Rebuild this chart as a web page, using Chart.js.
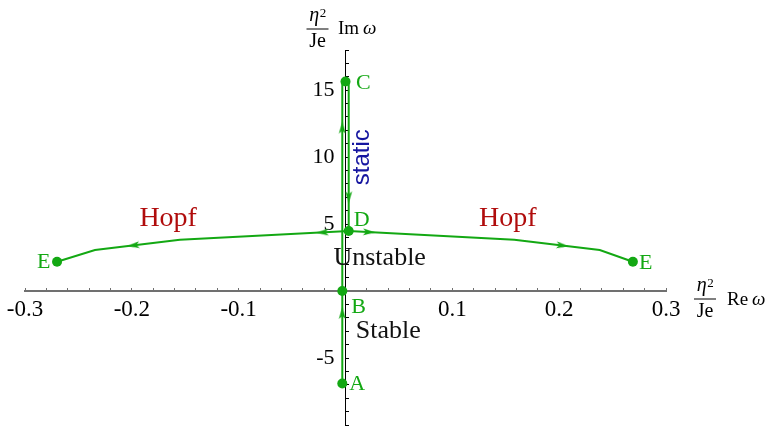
<!DOCTYPE html>
<html><head><meta charset="utf-8">
<script src="https://cdn.jsdelivr.net/npm/chart.js@4.4.1/dist/chart.umd.min.js"></script>
<style>html,body{margin:0;padding:0;background:#fff;overflow:hidden}canvas{display:block}</style>
</head><body>
<canvas id="c" width="767" height="426"></canvas>
<script>
// ---- data ----
const xTickLabels = [-0.3, -0.2, -0.1, 0.1, 0.2, 0.3];
const yTickLabels = [-5, 5, 10, 15];

const risingLineX = [-0.003, -0.003];      // A -> C
const risingLineY = [-6.9, 15.65];
const fallingLineX = [0.003, 0.003];       // C -> D
const fallingLineY = [15.65, 4.48];
const leftHopfX = [0.003, -0.155, -0.2345, -0.270];   // D -> E (left)
const leftHopfY = [4.48, 3.83, 3.06, 2.19];
const rightHopfX = [0.003, 0.158, 0.238, 0.269];      // D -> E (right)
const rightHopfY = [4.48, 3.83, 3.06, 2.19];

const pointNames = ['A', 'B', 'C', 'D', 'E', 'E'];
const pointX = [-0.003, -0.003, 0, 0.003, -0.270, 0.269];
const pointY = [-6.9, 0, 15.65, 4.48, 2.19, 2.19];

const arrowX = [-0.003, -0.003, 0.003, -0.0215, -0.1985, 0.022, 0.203];
const arrowY = [-1.64, 12.2, 7.0, 4.38, 3.41, 4.40, 3.40];
const arrowDirX = [0, 0, 0, -0.158, -0.0795, 0.155, 0.08];
const arrowDirY = [1, 1, -1, -0.65, -0.77, -0.65, -0.77];

// ---- styles ----
const green = '#13a813';
const serif = '"Liberation Serif", "Times New Roman", serif';
const pointLabelOffsets = [[7, 7], [9, 22], [10.5, 7.5], [5, -5], [-6.5, 6.5], [6, 7]];
const regionLabels = [
  {text: 'Hopf', x: -0.166, y: 4.85, color: '#b00c0c', font: '28px ' + serif},
  {text: 'Hopf', x: 0.152, y: 4.85, color: '#b00c0c', font: '28px ' + serif},
  {text: 'Unstable', x: 0.032, y: 1.94, color: '#111', font: '26px ' + serif},
  {text: 'Stable', x: 0.040, y: -3.51, color: '#111', font: '26px ' + serif}
];

function toXY(xs, ys) { return xs.map((v, i) => ({x: v, y: ys[i]})); }

function makeArrow() {
  const c = document.createElement('canvas');
  c.width = 12; c.height = 14;
  const g = c.getContext('2d');
  g.fillStyle = green;
  g.beginPath();
  g.moveTo(6, 1); g.lineTo(9.5, 13); g.lineTo(6, 10); g.lineTo(2.5, 13);
  g.closePath(); g.fill();
  return c;
}
const arrowImg = makeArrow();

function lineSet(xs, ys) {
  return {data: toXY(xs, ys), showLine: true, borderColor: green, borderWidth: 2,
          pointRadius: 0, fill: false, tension: 0, clip: false};
}

function zeroPad(scale) {
  scale.paddingLeft = 0; scale.paddingRight = 0; scale.paddingTop = 0; scale.paddingBottom = 0;
}

function isLabelled(v, list) { return list.some(t => Math.abs(t - v) < 1e-6); }

function drawFrac(ctx, cx, barY) {
  ctx.fillStyle = '#000';
  ctx.font = 'italic 20px ' + serif;
  const etaW = ctx.measureText('η').width;
  ctx.font = '13px ' + serif;
  const supW = ctx.measureText('2').width;
  const x0 = cx - (etaW + supW) / 2;
  ctx.textAlign = 'left';
  ctx.textBaseline = 'alphabetic';
  ctx.font = 'italic 20px ' + serif;
  ctx.fillText('η', x0, barY - 8);
  ctx.font = '13px ' + serif;
  ctx.fillText('2', x0 + etaW + 0.5, barY - 12);
  ctx.fillRect(cx - 11, barY - 0.5, 22, 1);
  ctx.font = '20px ' + serif;
  ctx.textAlign = 'center';
  ctx.fillText('Je', cx, barY + 18);
}
function drawPart(ctx, x, baseY, word) {
  ctx.textAlign = 'left';
  ctx.font = '19px ' + serif;
  ctx.fillText(word, x, baseY);
  const w = ctx.measureText(word).width;
  ctx.font = 'italic 19px ' + serif;
  ctx.fillText('ω', x + w + 4, baseY);
}

const labelPlugin = {
  id: 'labels',
  afterDatasetsDraw(chart) {
    const {ctx, chartArea} = chart;
    const xs = chart.scales.x, ys = chart.scales.y;
    ctx.save();
    ctx.font = '22px ' + serif;
    ctx.fillStyle = green;
    ctx.textBaseline = 'alphabetic';
    pointNames.forEach((n, i) => {
      const o = pointLabelOffsets[i];
      ctx.textAlign = o[0] < 0 ? 'right' : 'left';
      ctx.fillText(n, xs.getPixelForValue(pointX[i]) + o[0], ys.getPixelForValue(pointY[i]) + o[1]);
    });
    ctx.textAlign = 'center';
    regionLabels.forEach(r => {
      ctx.font = r.font; ctx.fillStyle = r.color;
      ctx.fillText(r.text, xs.getPixelForValue(r.x), ys.getPixelForValue(r.y));
    });
    ctx.save();
    ctx.translate(xs.getPixelForValue(0.0154), ys.getPixelForValue(10.0));
    ctx.rotate(-Math.PI / 2);
    ctx.font = '24px "Liberation Sans", Arial, sans-serif';
    ctx.fillStyle = '#1515a0';
    ctx.textAlign = 'center';
    ctx.textBaseline = 'middle';
    ctx.fillText('static', 0, 0);
    ctx.restore();
    const x0 = xs.getPixelForValue(0);
    drawFrac(ctx, x0 - 28, 29);
    drawPart(ctx, x0 - 7.5, 34, 'Im');
    drawFrac(ctx, chartArea.right + 39, 299);
    drawPart(ctx, chartArea.right + 61, 305, 'Re');
    ctx.restore();
  }
};

new Chart(document.getElementById('c'), {
  type: 'scatter',
  data: {
    datasets: [
      lineSet(risingLineX, risingLineY),
      lineSet(fallingLineX, fallingLineY),
      lineSet(leftHopfX, leftHopfY),
      lineSet(rightHopfX, rightHopfY),
      {data: toXY(pointX, pointY), showLine: false, pointRadius: 5, pointBackgroundColor: green,
       pointBorderWidth: 0, clip: false},
      {data: toXY(arrowX, arrowY), showLine: false, pointRadius: 6, pointStyle: arrowImg, clip: false,
       pointRotation: (c) => {
         const i = c.dataIndex;
         const sx = c.chart.scales.x, sy = c.chart.scales.y;
         if (!sx || !sy) return 0;
         const dx = sx.getPixelForValue(arrowDirX[i]) - sx.getPixelForValue(0);
         const dy = sy.getPixelForValue(arrowDirY[i]) - sy.getPixelForValue(0);
         return Math.atan2(dx, -dy) * 180 / Math.PI;
       }}
    ]
  },
  options: {
    responsive: false, animation: false, devicePixelRatio: 1,
    layout: {autoPadding: false, padding: {left: 25, right: 101, top: 50, bottom: 1}},
    plugins: {legend: {display: false}, tooltip: {enabled: false}},
    scales: {
      x: {
        type: 'linear', min: -0.3, max: 0.3, position: {y: 0},
        border: {display: true, color: '#707070', width: 2},
        grid: {drawOnChartArea: false, drawTicks: true, tickLength: -4, color: '#707070', lineWidth: 1},
        ticks: {stepSize: 0.02, autoSkip: false, maxTicksLimit: 1000, maxRotation: 0, minRotation: 0,
                padding: 9, color: '#000', font: {family: 'Liberation Serif', size: 23},
                callback: (v) => isLabelled(v, xTickLabels) ? (Math.round(v * 10) / 10).toFixed(1) : ''},
        afterFit: zeroPad
      },
      y: {
        type: 'linear', min: -10, max: 18, position: {x: 0},
        border: {display: true, color: '#000', width: 1},
        grid: {drawOnChartArea: false, drawTicks: true, tickLength: -4, color: '#000', lineWidth: 1},
        ticks: {stepSize: 1, autoSkip: false, maxTicksLimit: 1000, color: '#000',
                font: {family: 'Liberation Serif', size: 22},
                callback: (v) => isLabelled(v, yTickLabels) ? String(Math.round(v)) + '\u2002' : ''},
        afterFit: zeroPad
      }
    }
  },
  plugins: [labelPlugin]
});
</script>
</body></html>
